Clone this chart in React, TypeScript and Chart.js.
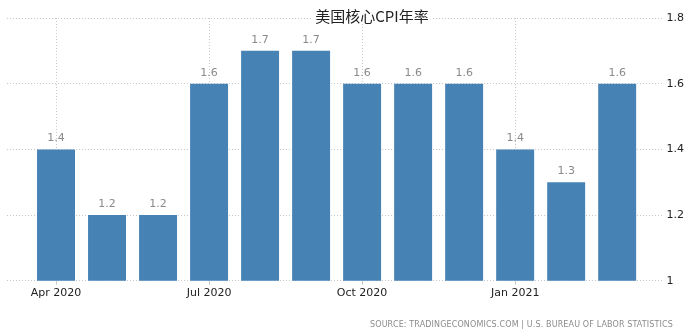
import React, { useEffect, useRef } from "react";
import { Chart, registerables } from "chart.js";

Chart.register(...registerables);

const months = [
  "Apr 2020", "May 2020", "Jun 2020", "Jul 2020", "Aug 2020", "Sep 2020",
  "Oct 2020", "Nov 2020", "Dec 2020", "Jan 2021", "Feb 2021", "Mar 2021",
];
const coreCpi = [1.4, 1.2, 1.2, 1.6, 1.7, 1.7, 1.6, 1.6, 1.6, 1.4, 1.3, 1.6];
const xTickIndices = [0, 3, 6, 9];
const yTicks = [1, 1.2, 1.4, 1.6, 1.8];
const title = "美国核心CPI年率";
const source = "SOURCE: TRADINGECONOMICS.COM | U.S. BUREAU OF LABOR STATISTICS";

const BAR = "#4682B4";
const GRID = "#c8c8c8";
const FONT = "'DejaVu Sans', Tahoma, sans-serif";

const overlayPlugin = {
  id: "overlay",
  afterDatasetsDraw(chart: any) {
    const ctx = chart.ctx;
    const meta = chart.getDatasetMeta(0);
    ctx.save();
    ctx.font = `11px ${FONT}`;
    ctx.fillStyle = "#8a8a8a";
    ctx.textAlign = "center";
    ctx.textBaseline = "alphabetic";
    meta.data.forEach((el: any, i: number) => {
      ctx.fillText(coreCpi[i].toFixed(1), el.x, el.y - 8);
    });
    ctx.restore();
  },
  afterDraw(chart: any) {
    const ctx = chart.ctx;
    ctx.save();
    ctx.font = `15px 'Noto Sans CJK SC', ${FONT}`;
    const w = ctx.measureText(title).width;
    const cx = 372;
    ctx.fillStyle = "#ffffff";
    ctx.fillRect(cx - w / 2 - 2, 8, w + 4, 16);
    ctx.fillStyle = "#222222";
    ctx.textAlign = "center";
    ctx.textBaseline = "middle";
    ctx.fillText(title, cx, 16);

    ctx.font = `8px ${FONT}`;
    (ctx as any).letterSpacing = "0.13px";
    ctx.fillStyle = "#8c8c8c";
    ctx.textAlign = "right";
    ctx.fillText(source, 673, 325);
    ctx.restore();
  },
};

export default function App() {
  const ref = useRef<HTMLCanvasElement>(null);

  useEffect(() => {
    document.body.style.margin = "0";
    const canvas = ref.current!;
    const chart = new Chart(canvas, {
      type: "bar",
      data: {
        datasets: [
          {
            data: coreCpi.map((v, i) => ({ x: i, y: v })),
            backgroundColor: BAR,
            borderWidth: 0,
            barPercentage: 0.93,
            categoryPercentage: 0.8,
          },
        ],
      },
      options: {
        responsive: false,
        animation: false,
        layout: { padding: { left: 7, right: 7, top: 18, bottom: 34 } },
        plugins: {
          legend: { display: false },
          tooltip: { enabled: false },
          title: { display: false },
        },
        scales: {
          x: {
            type: "linear",
            offset: false,
            min: -0.961,
            max: 11.908,
            afterBuildTicks: (scale: any) => {
              scale.ticks = xTickIndices.map((v) => ({ value: v }));
            },
            ticks: {
              autoSkip: false,
              maxRotation: 0,
              padding: 2,
              color: "#222222",
              font: { family: FONT, size: 11 },
              callback: (v: any) => months[v as number] ?? "",
            },
            grid: {
              offset: false,
              color: GRID,
              drawTicks: true,
              tickLength: 4,
              tickColor: GRID,
            },
            border: { display: false, dash: [1, 2] },
          },
          y: {
            position: "right",
            min: 1,
            max: 1.8,
            afterBuildTicks: (scale: any) => {
              scale.ticks = yTicks.map((v) => ({ value: v }));
            },
            ticks: {
              padding: 3,
              color: "#222222",
              font: { family: FONT, size: 11 },
              callback: (v: any) => String(Number(Number(v).toFixed(1))),
            },
            grid: { color: GRID, drawTicks: false },
            border: { display: false, dash: [1, 2] },
          },
        },
      },
      plugins: [overlayPlugin],
    });
    return () => chart.destroy();
  }, []);

  return <canvas ref={ref} width={694} height={336} style={{ display: "block" }} />;
}
